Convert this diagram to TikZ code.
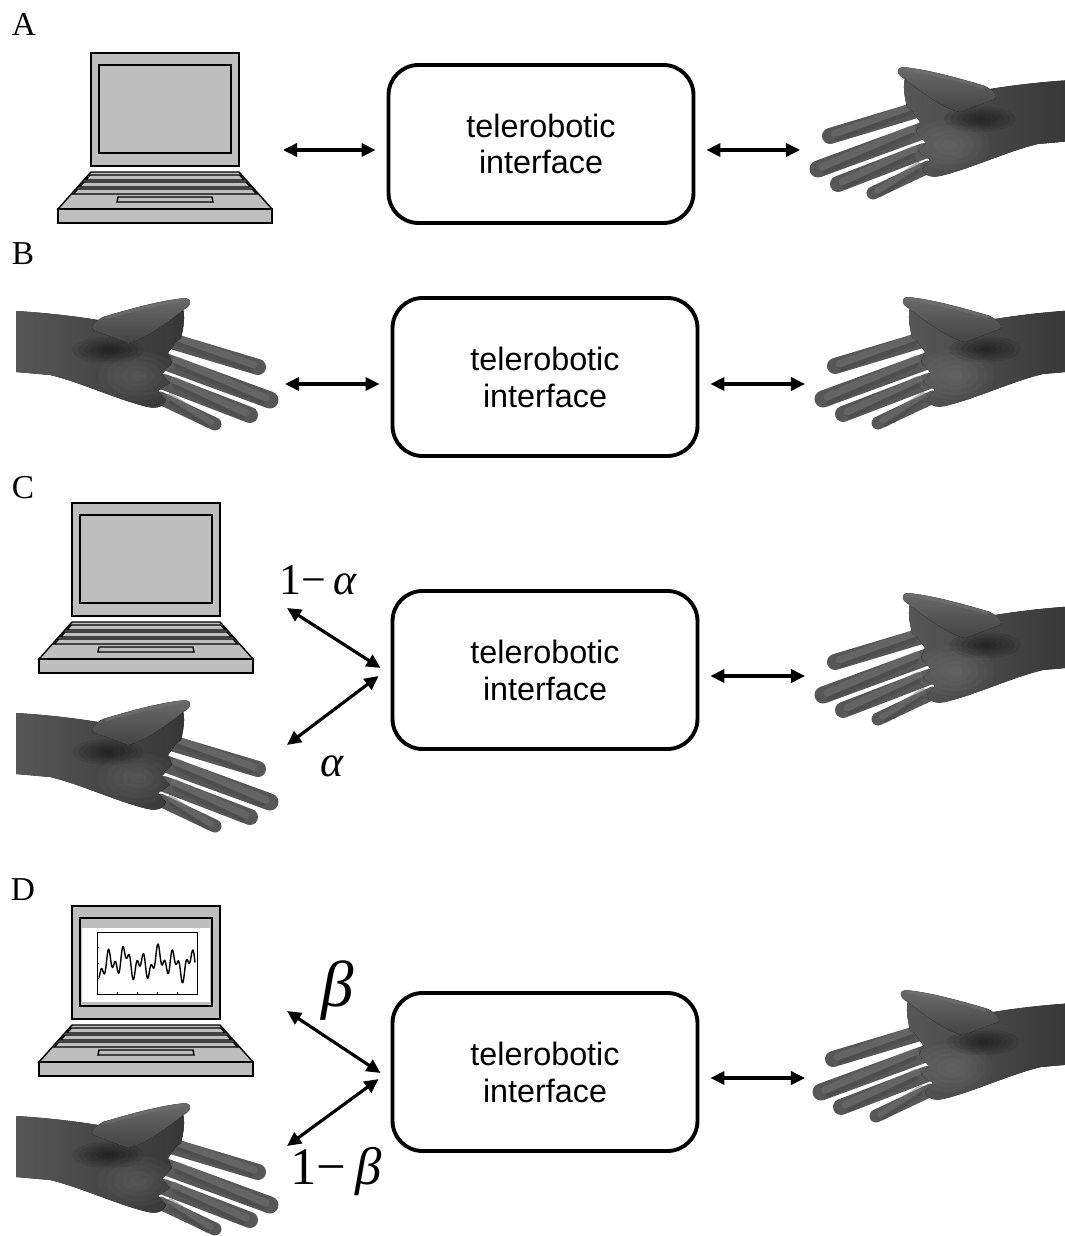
\documentclass[tikz,border=0pt]{standalone}
\usepackage{fontspec}
\setmainfont{Liberation Serif}
\setsansfont{Liberation Sans}
\usetikzlibrary{arrows.meta,calc,positioning}
\definecolor{LapGray}{HTML}{BEBEBE}
\definecolor{SkinDark}{HTML}{363636}
\definecolor{SkinMid}{HTML}{575757}
\definecolor{SkinLight}{HTML}{727272}

\tikzset{
  panel/.style={font=\fontsize{19}{22}\selectfont},
  iface/.style={draw, line width=2.2pt, rounded corners=0.6cm, minimum width=6.1cm, minimum height=3.16cm,
    align=center, font=\sffamily\fontsize{18.4}{21}\selectfont},
  twoway/.style={{Triangle[length=8pt,width=7.5pt]}-{Triangle[length=8pt,width=7.5pt]}, line width=1.8pt},
  weight/.style={font=\fontsize{25}{30}\selectfont},
  laptop/.pic={
    \filldraw[fill=LapGray, line width=0.8pt] (0,0) rectangle (148,113);
    \filldraw[fill=LapGray, line width=0.9pt] (8,12) rectangle (140,100);
    \filldraw[fill=LapGray, line width=0.8pt] (0,119) -- (148,119) -- (181,156) -- (-33,156) -- cycle;
    \filldraw[fill=LapGray, line width=0.8pt] (-33,156) rectangle (181,170);
    % key rows
    \foreach \t in {122,129,136}
    {
      \filldraw[fill=LapGray, line width=0.8pt] ({-33*(\t-119)/37+2},\t) -- ({148+33*(\t-119)/37-2},\t)
        -- ({148+33*(\t+5-119)/37-2},\t+5) -- ({-33*(\t+5-119)/37+2},\t+5) -- cycle;
    }
    \filldraw[fill=LapGray, line width=0.8pt] (27,144) -- (121,144) -- (122,149) -- (26,149) -- cycle;
  },
  hand/.pic={
    % fingers
    \foreach \bx/\by/\tx/\ty/\w in {118/102/63/128/13, 114/86/28/119/16, 112/66/8/104/17, 110/44/20/71/16}
    {
      \pgfmathsetmacro\lw{0.57*\w}
      \draw[SkinMid, line width=\lw pt, line cap=round] (\bx,\by) -- (\tx,\ty);
      \pgfmathsetmacro\lw{0.25*\w}
      \draw[SkinLight, opacity=.5, line width=\lw pt, line cap=round] (\bx-10,\by-2) -- (\tx+4,\ty-2);
      \pgfmathsetmacro\lw{0.15*\w}
      \draw[SkinDark, opacity=.25, line width=\lw pt, line cap=round] (\bx-10,\by+4) -- (\tx+7,\ty+3);
    }
    % palm and wrist, notched between the fingers
    \fill[left color=SkinMid, right color=SkinDark] (97,42) .. controls (94,30) and (93,20) .. (95,13)
      .. controls (120,20) and (150,26) .. (180,24)
      .. controls (205,20) and (230,17) .. (262,15) -- (262,76) -- (228,79)
      .. controls (198,86) and (160,104) .. (130,111) .. controls (120,113) and (114,110) .. (112,104)
      -- (120,95) -- (108,87) -- (116,78) -- (106,67) -- (110,57) -- (102,46) -- cycle;
    \foreach \r in {1,...,5}
      \fill[white, opacity=.025] (140,80) ellipse [x radius=8*\r, y radius=5*\r];
    % shadow under the thumb
    \foreach \r in {1,...,6}
      \fill[black, opacity=.09] (170,54) ellipse [x radius=6*\r, y radius=2.2*\r];
    % thumb
    \fill[top color=SkinLight!70!SkinMid, bottom color=SkinDark!60!SkinMid] (92,2) .. controls (115,4) and (145,12) .. (175,21)
      .. controls (184,26) and (188,31) .. (185,34) -- (150,47) .. controls (135,44) and (115,30) .. (95,14)
      .. controls (86,10) and (86,3) .. (92,2) -- cycle;
    \draw[SkinLight, opacity=.6, line width=1.6pt, line cap=round] (95,4) .. controls (120,8) and (145,14) .. (172,22);
  }
}

\begin{document}
\begin{tikzpicture}[x=0.02cm, y=-0.02cm]
  \path[use as bounding box, fill=white] (0,0) rectangle (1064,1236);

  % A
  \node[panel] (labA) at (24,24) {A};
  \pic (lapA) at (91,53) {laptop};
  \node[iface] (boxA) at (541,144) {telerobotic\\interface};
  \pic (handA) at (810,65) {hand};
  \coordinate (lapAr) at (283,150);
  \coordinate (handAl) at (800,150);
  \draw[twoway] (lapAr) -- ($(boxA.west)+(-11,6)$);
  \draw[twoway] ($(boxA.east)+(11,6)$) -- (handAl);

  % B
  \node[panel] (labB) at (23,254) {B};
  \pic[xscale=-1] (humB) at (278,296) {hand};
  \node[iface] (boxB) at (545,377) {telerobotic\\interface};
  \pic (handB) at (815,295) {hand};
  \coordinate (humBr) at (285,384);
  \coordinate (handBl) at (805,384);
  \draw[twoway] (humBr) -- ($(boxB.west)+(-11,7)$);
  \draw[twoway] ($(boxB.east)+(11,7)$) -- (handBl);

  % C
  \node[panel] (labC) at (23,488) {C};
  \pic (lapC) at (72,503) {laptop};
  \pic[xscale=-1] (humC) at (278,698) {hand};
  \node[iface] (boxC) at (545,670) {telerobotic\\interface};
  \pic (handC) at (815,591) {hand};
  \coordinate (lapCr) at (287,608);
  \coordinate (humCr) at (287,745);
  \coordinate (handCl) at (805,676);
  \draw[twoway] (lapCr) -- ($(boxC.west)+(-10,-2)$);
  \draw[twoway] ($(boxC.west)+(-12,6)$) -- (humCr);
  \draw[twoway] ($(boxC.east)+(11,6)$) -- (handCl);
  \node[weight] (wC1) at (318,580) {1−\,\textit{α}};
  \node[weight] (wC2) at (332,766) {\textit{α}};

  % D
  \node[panel] (labD) at (23,890) {D};
  \pic (lapD) at (72,906) {laptop};
  \begin{scope}[shift={(72,906)}]
    \fill[white] (10,22) rectangle (138,96);
    \draw[line width=0.3pt] (25,26) rectangle (125,88);
    \foreach \t in {0,...,5}
      \draw[line width=0.3pt] ({25+20*\t},88) -- ++(0,-2);
    \foreach \t in {0,...,4}
      \draw[line width=0.3pt] (25,{26+15.5*\t}) -- ++(2,0);
    \draw[line width=0.8pt, line join=round] plot[domain=27:123, samples=150, smooth]
      (\x, {57-9*sin(22*\x)-7*sin(51*\x+30)-4*sin(9*\x)});
  \end{scope}
  \pic[xscale=-1] (humD) at (278,1101) {hand};
  \node[iface] (boxD) at (545,1072) {telerobotic\\interface};
  \pic (handD) at (813,988) {hand};
  \coordinate (lapDr) at (287,1011);
  \coordinate (humDr) at (287,1146);
  \coordinate (handDl) at (805,1078);
  \draw[twoway] (lapDr) -- ($(boxD.west)+(-10,1)$);
  \draw[twoway] ($(boxD.west)+(-12,7)$) -- (humDr);
  \draw[twoway] ($(boxD.east)+(11,6)$) -- (handDl);
  \node[font=\fontsize{37}{40}\selectfont] (wD1) at (338,991) {\textit{β}};
  \node[font=\fontsize{30}{34}\selectfont] (wD2) at (336,1172) {1−\,\textit{β}};
\end{tikzpicture}
\end{document}
